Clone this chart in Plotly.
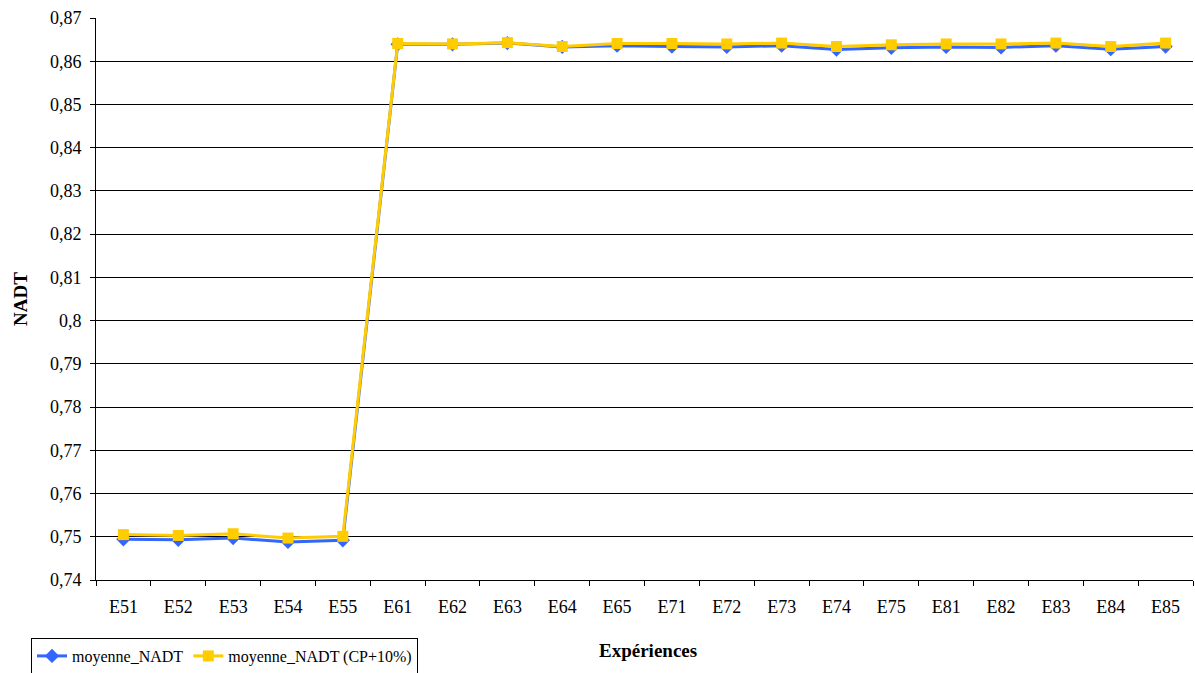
import plotly.graph_objects as go

categories = ["E51", "E52", "E53", "E54", "E55", "E61", "E62", "E63", "E64", "E65",
              "E71", "E72", "E73", "E74", "E75", "E81", "E82", "E83", "E84", "E85"]
moyenne_nadt = [0.7494, 0.7493, 0.7497, 0.7488, 0.7492, 0.8639, 0.8639, 0.8642, 0.8633, 0.8636,
                0.8634, 0.8633, 0.8636, 0.8627, 0.8631, 0.8633, 0.8632, 0.8636, 0.8628, 0.8634]
moyenne_nadt_cp10 = [0.7505, 0.7503, 0.7507, 0.7497, 0.7501, 0.8641, 0.8640, 0.8643, 0.8634, 0.8641,
                     0.8641, 0.8640, 0.8642, 0.8634, 0.8638, 0.8640, 0.8640, 0.8642, 0.8634, 0.8642]
y_ticks = [0.74, 0.75, 0.76, 0.77, 0.78, 0.79, 0.80, 0.81, 0.82, 0.83, 0.84, 0.85, 0.86, 0.87]
y_tick_labels = ["0,74", "0,75", "0,76", "0,77", "0,78", "0,79", "0,8", "0,81", "0,82", "0,83",
                 "0,84", "0,85", "0,86", "0,87"]
x_title = "Expériences"
y_title = "NADT"

font = "Liberation Serif, Times New Roman, serif"

fig = go.Figure()
fig.add_trace(go.Scatter(
    x=categories, y=moyenne_nadt, name="moyenne_NADT", mode="lines+markers",
    line=dict(color="#3366FF", width=3),
    marker=dict(symbol="diamond", size=11, color="#3366FF"),
))
fig.add_trace(go.Scatter(
    x=categories, y=moyenne_nadt_cp10, name="moyenne_NADT (CP+10%)", mode="lines+markers",
    line=dict(color="#FFCC00", width=3),
    marker=dict(symbol="square", size=11, color="#FFCC00"),
))

fig.update_layout(
    width=1195, height=673,
    margin=dict(l=96, r=2, t=18, b=93, autoexpand=False),
    paper_bgcolor="white", plot_bgcolor="white",
    font=dict(family=font, size=18, color="black"),
    showlegend=True,
    legend=dict(
        orientation="h", xref="container", yref="container",
        x=31/1195, y=1 - 638/673, xanchor="left", yanchor="top",
        bordercolor="black", borderwidth=1, bgcolor="white",
        font=dict(family=font, size=16),
        tracegroupgap=0,
    ),
    xaxis=dict(
        type="category", tickson="boundaries", ticks="outside", ticklen=5,
        tickcolor="black", showline=True, linecolor="black", linewidth=1,
        showgrid=False, range=[-0.5, 19.5], automargin=False,
        ticklabelstandoff=10,
    ),
    yaxis=dict(
        range=[0.74, 0.87], tickvals=y_ticks, ticktext=y_tick_labels,
        ticks="outside", ticklen=5, tickcolor="black",
        showline=True, linecolor="black", linewidth=1,
        showgrid=True, gridcolor="black", gridwidth=1,
        zeroline=False, automargin=False, ticklabelstandoff=5,
    ),
    annotations=[
        dict(text="<b>" + x_title + "</b>", xref="paper", yref="paper",
             x=(648 - 96) / 1097, y=-(650 - 580) / 562, xanchor="center", yanchor="middle",
             showarrow=False, font=dict(family=font, size=19)),
        dict(text="<b>" + y_title + "</b>", xref="paper", yref="paper",
             x=(20 - 96) / 1097, y=(580 - 299) / 562, xanchor="center", yanchor="middle",
             textangle=-90, showarrow=False, font=dict(family=font, size=19)),
    ],
)

fig.write_html("out.html", config={"displayModeBar": False},
               post_script="document.body.style.margin='0';document.body.style.overflow='hidden';")
